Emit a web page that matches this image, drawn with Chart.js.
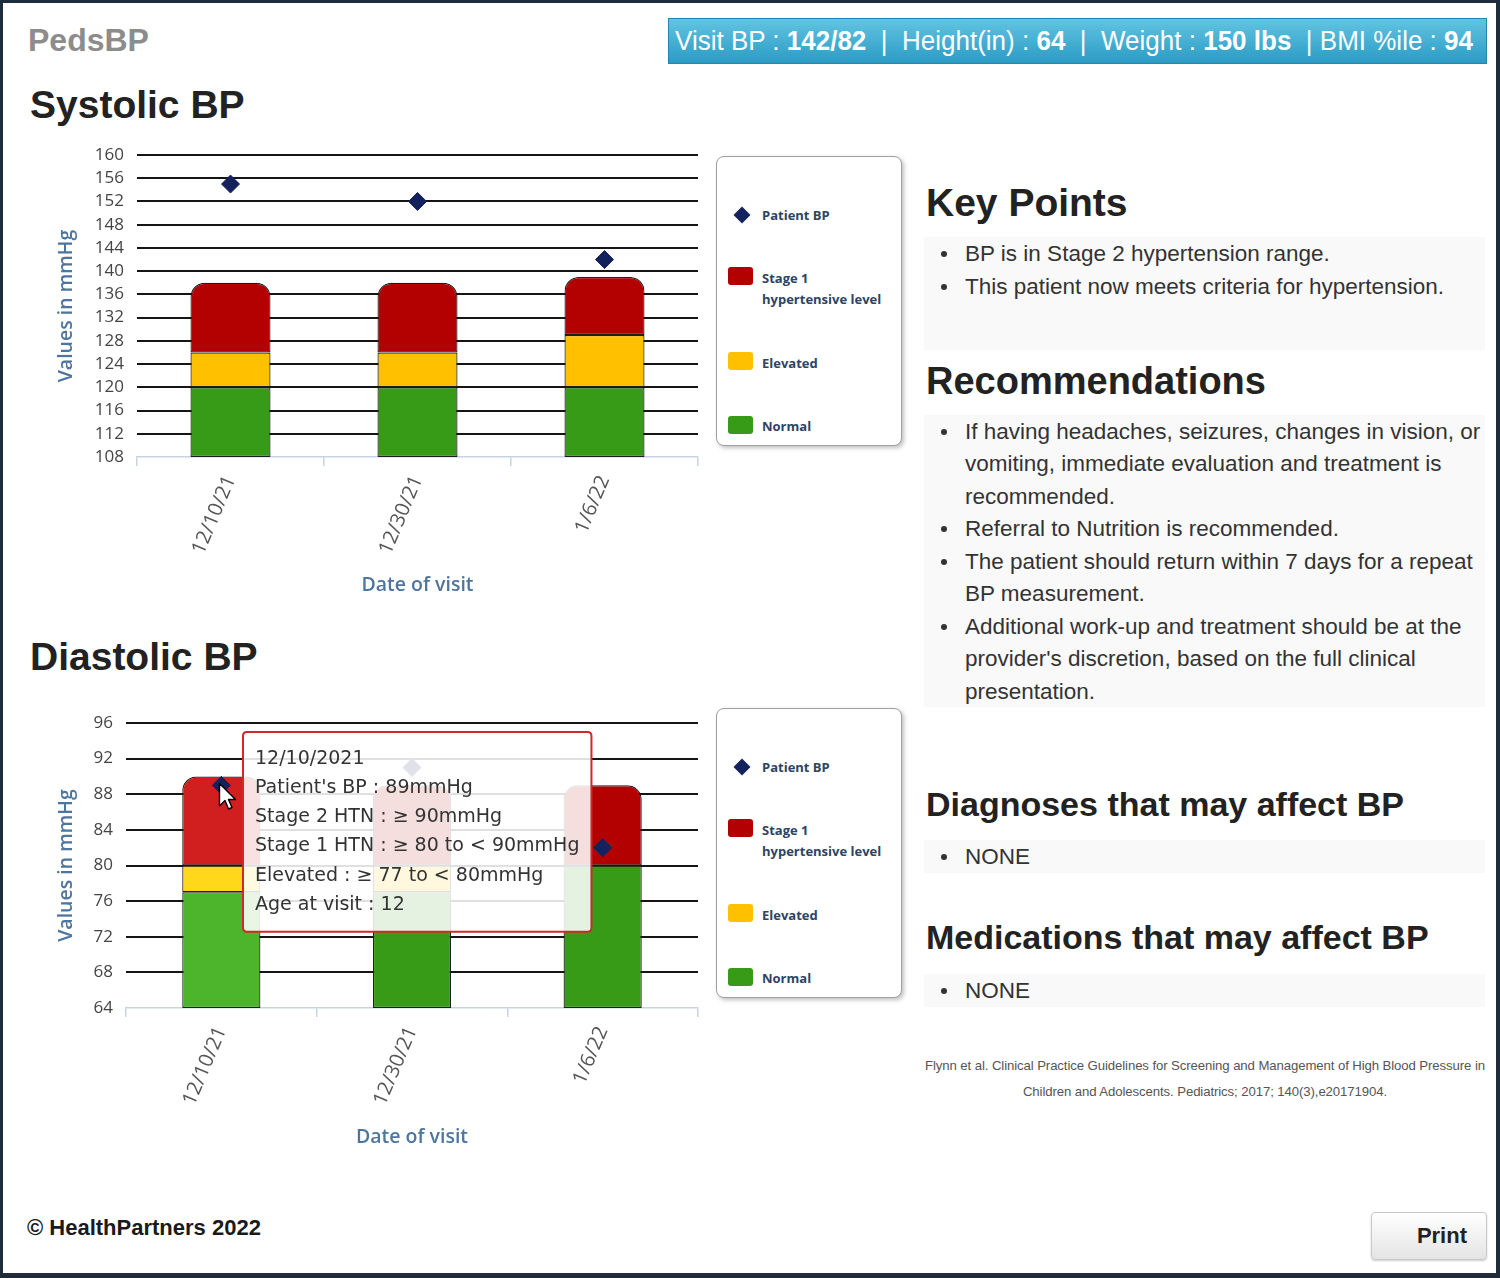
<!DOCTYPE html>
<html>
<head>
<meta charset="utf-8">
<title>PedsBP</title>
<script src="https://cdn.jsdelivr.net/npm/chart.js@4.4.1/dist/chart.umd.min.js"></script>
<style>
  html, body { margin:0; padding:0; background:#fff; width:1500px; height:1278px; overflow:hidden; }
  body { position:relative; font-family:"Liberation Sans", Arial, sans-serif; color:#222; }
  .a { position:absolute; white-space:nowrap; }
  #frame { position:absolute; left:0; top:0; width:1500px; height:1278px; box-sizing:border-box;
           border:3px solid #1f2c3b; border-bottom-width:5px; border-right-width:4px; pointer-events:none; z-index:20; }
  .brand { left:28px; top:21px; line-height:38px; font-size:32px; font-weight:bold; color:#8c8c8c; }
  #hdr { position:absolute; left:668px; top:18px; width:819px; height:46px; box-sizing:border-box;
         background:linear-gradient(#62c4e2,#2b9bc4); border:1px solid #2585aa; color:#fff;
         font-size:27px; line-height:44px; padding-left:6px; overflow:hidden; white-space:nowrap; }
  #hdrText { display:inline-block; transform-origin:0 50%; white-space:pre; }
  .h { margin:0; font-weight:bold; color:#222; }
  .box { position:absolute; background:#f9f9f9; }
  ul.bl { margin:0; padding:0; list-style:none; font-size:22.5px; color:#333; }
  ul.bl li { position:relative; padding-left:41px; white-space:nowrap; }
  ul.bl li::before { content:""; position:absolute; left:17px; width:6px; height:6px; border-radius:50%; background:#333; }
  .lh33 li { line-height:33px; } .lh33 li::before { top:13.5px; }
  .lh325 li { line-height:32.5px; } .lh325 li::before { top:13.3px; }
  .legend { position:absolute; width:186px; height:290px; box-sizing:border-box; border:1.5px solid #a0a0a0;
            border-radius:8px; background:#fff; box-shadow:2px 2px 4px rgba(0,0,0,0.25); }
  .lg-t { position:absolute; left:45px; font-family:"Open Sans", sans-serif; font-weight:bold; font-size:13px;
          color:#2d4463; line-height:21px; white-space:nowrap; transform:translateY(-50%); }
  .lg-s { position:absolute; left:11px; width:25px; height:18px; border-radius:3px; transform:translateY(-50%); }
  .lg-d { position:absolute; left:19px; width:12px; height:12px; background:#13225c; transform:translateY(-50%) rotate(45deg); }
  .cite { left:924px; top:1053px; width:562px; text-align:center; font-size:13.2px; line-height:26px; color:#555; letter-spacing:-0.1px; white-space:nowrap; }
  .copy { left:27px; top:1214px; line-height:28px; font-size:22px; font-weight:bold; color:#1a1a1a; }
  .print { position:absolute; left:1371px; top:1212px; width:116px; height:48px; box-sizing:border-box; border:1px solid #c8c8c8;
           border-radius:4px; background:linear-gradient(#ffffff,#e4e4e4); box-shadow:0 1px 2px rgba(0,0,0,0.2);
           font-size:22px; font-weight:bold; color:#222; line-height:46px; text-align:right; padding-right:19px; }
  .cv { position:absolute; }
</style>
</head>
<body>
<div id="frame"></div>

<div class="a brand">PedsBP</div>
<div id="hdr"><span id="hdrText">Visit BP : <b>142/82</b>  |  Height(in) : <b>64</b>  |  Weight : <b>150 lbs</b>  | BMI %ile : <b>94</b></span></div>

<div class="a h" style="left:30px;top:82px;font-size:39px;line-height:46px;">Systolic BP</div>
<div class="a h" style="left:30px;top:634px;font-size:39px;line-height:46px;">Diastolic BP</div>

<div class="cv" style="left:40px;top:140px;width:660px;height:470px;"><canvas id="sysChart" width="660" height="470"></canvas></div>
<div class="cv" style="left:40px;top:700px;width:660px;height:470px;"><canvas id="diaChart" width="660" height="470"></canvas></div>

<div class="legend" id="sysLegend" style="left:716px;top:156px;"></div>
<div class="legend" id="diaLegend" style="left:716px;top:708px;"></div>

<svg class="a" style="left:218px;top:782px;z-index:5;" width="20" height="32" viewBox="0 0 20 32">
  <path d="M1.5,1.5 L1.5,24 L7,18.5 L10.5,27 L14,25.5 L10.5,17.5 L17.5,17.5 Z" fill="#fff" stroke="#000" stroke-width="1.4" stroke-linejoin="round"/>
</svg>

<div class="a h" style="left:926px;top:180px;font-size:39px;line-height:46px;">Key Points</div>
<div class="box" style="left:924px;top:237px;width:561px;height:113px;">
  <ul class="bl lh33">
    <li>BP is in Stage 2 hypertension range.</li>
    <li>This patient now meets criteria for hypertension.</li>
  </ul>
</div>

<div class="a h" style="left:926px;top:358px;font-size:38px;line-height:46px;">Recommendations</div>
<div class="box" style="left:924px;top:415px;width:561px;height:292px;">
  <ul class="bl lh325" style="padding-top:0.5px;">
    <li>If having headaches, seizures, changes in vision, or<br>vomiting, immediate evaluation and treatment is<br>recommended.</li>
    <li>Referral to Nutrition is recommended.</li>
    <li>The patient should return within 7 days for a repeat<br>BP measurement.</li>
    <li>Additional work-up and treatment should be at the<br>provider's discretion, based on the full clinical<br>presentation.</li>
  </ul>
</div>

<div class="a h" style="left:926px;top:784px;font-size:34px;line-height:40px;">Diagnoses that may affect BP</div>
<div class="box" style="left:924px;top:840px;width:561px;height:33px;">
  <ul class="bl lh33"><li>NONE</li></ul>
</div>

<div class="a h" style="left:926px;top:917px;font-size:34px;line-height:40px;">Medications that may affect BP</div>
<div class="box" style="left:924px;top:974px;width:561px;height:33px;">
  <ul class="bl lh33"><li>NONE</li></ul>
</div>

<div class="a cite">Flynn et al. Clinical Practice Guidelines for Screening and Management of High Blood Pressure in<br>Children and Adolescents. Pediatrics; 2017; 140(3),e20171904.</div>

<div class="a copy">© HealthPartners 2022</div>
<div class="print">Print</div>

<script>
// ---------- data ----------
const visitLabels = ['12/10/21', '12/30/21', '1/6/22'];
const visitDates  = ['12/10/2021', '12/30/2021', '1/6/2022'];
const ageAtVisit  = [12, 12, 13];
const seriesNames = ['Patient BP', 'Stage 1 hypertensive level', 'Elevated', 'Normal'];

const sysPatient     = [155, 152, 142];
const sysNormalTop   = [120, 120, 120];
const sysElevatedTop = [126, 126, 129];
const sysStage1Top   = [138, 138, 139];

const diaPatient     = [89, 91, 82];
const diaNormalTop   = [77, 77, 80];
const diaElevatedTop = [80, 80, 80];
const diaStage1Top   = [90, 89, 89];

const sysRange = [108, 160];
const diaRange = [64, 96];
const tickStep = 4;

// ---------- styles ----------
const RED = '#b30000', RED_HI = '#d11e1e';
const YEL = '#ffc000', YEL_HI = '#ffd81c';
const GRN = '#379b17', GRN_HI = '#4db52b';
const NAVY = '#13225c';

// header text fit
(function(){
  const s = document.getElementById('hdrText');
  const w = s.getBoundingClientRect().width;
  s.style.transform = 'scaleX(' + (798 / w) + ')';
})();

// legends
function buildLegend(id) {
  const el = document.getElementById(id);
  const sw = [null, RED, YEL, GRN];
  const rows = [
    {sy: 58, ty: 58},
    {sy: 119, ty: 132},
    {sy: 204, ty: 206},
    {sy: 268, ty: 269}
  ];
  seriesNames.forEach((n, i) => {
    const r = rows[i];
    if (i === 0) {
      el.insertAdjacentHTML('beforeend', '<div class="lg-d" style="top:' + r.sy + 'px"></div>');
    } else {
      el.insertAdjacentHTML('beforeend', '<div class="lg-s" style="top:' + r.sy + 'px;background:' + sw[i] + '"></div>');
    }
    el.insertAdjacentHTML('beforeend', '<div class="lg-t" style="top:' + r.ty + 'px">' + n.replace('Stage 1 ', 'Stage 1<br>') + '</div>');
  });
}
buildLegend('sysLegend');
buildLegend('diaLegend');

Chart.defaults.font.family = "'Open Sans', 'DejaVu Sans', sans-serif";
Chart.defaults.color = '#444';

Chart.Tooltip.positioners.pinned = function(items) {
  if (!items.length) return false;
  return { x: 207, y: 32 };
};

function bpChart(id, o) {
  const pick = (base, hi) => ctx => (ctx.dataIndex === o.highlight ? hi : base);
  const barStyle = {
    type: 'bar', borderColor: '#1e1e1e', borderWidth: 1.2, borderSkipped: false,
    grouped: false, barPercentage: o.barPct, categoryPercentage: 1, order: 1
  };
  const tooltip = o.tooltip ? {
    enabled: true, position: 'pinned', xAlign: 'left', yAlign: 'top', caretSize: 0, caretPadding: 0,
    backgroundColor: 'rgba(255,255,255,0.87)', borderColor: '#d0282c', borderWidth: 2, cornerRadius: 4,
    titleColor: '#333', bodyColor: '#333',
    titleFont: {family: "'DejaVu Sans', sans-serif", size: 19, weight: 'normal', lineHeight: 1.542},
    bodyFont: {family: "'DejaVu Sans', sans-serif", size: 19, lineHeight: 1.542},
    titleMarginBottom: 0, titleSpacing: 0, bodySpacing: 0,
    padding: {top: 12, bottom: 12, left: 12, right: 12}, displayColors: false,
    filter: item => item.datasetIndex === 0,
    callbacks: {
      title: items => visitDates[items[0].dataIndex],
      label: item => {
        const i = item.dataIndex;
        return [
          "Patient's BP : " + o.patient[i] + 'mmHg',
          'Stage 2 HTN : \u2265 ' + o.stage1Top[i] + 'mmHg',
          'Stage 1 HTN : \u2265 ' + o.elevatedTop[i] + ' to < ' + o.stage1Top[i] + 'mmHg',
          'Elevated : \u2265 ' + o.normalTop[i] + ' to < ' + o.elevatedTop[i] + 'mmHg',
          'Age at visit : ' + ageAtVisit[i]
        ];
      }
    }
  } : {enabled: false};

  return new Chart(document.getElementById(id), {
    data: {
      labels: visitLabels,
      datasets: [
        { type: 'line', label: seriesNames[0], data: o.patient, showLine: false, pointStyle: 'rectRot',
          pointRadius: 9, pointHoverRadius: 9, pointBackgroundColor: NAVY, pointBorderColor: NAVY,
          pointBorderWidth: 1, order: 0 },
        Object.assign({ label: seriesNames[1], data: o.stage1Top.map((v, i) => [o.elevatedTop[i], v]),
          backgroundColor: pick(RED, RED_HI),
          borderRadius: {topLeft: 14, topRight: 14, bottomLeft: 0, bottomRight: 0} }, barStyle),
        Object.assign({ label: seriesNames[2], data: o.elevatedTop.map((v, i) => [o.normalTop[i], v]),
          backgroundColor: pick(YEL, YEL_HI) }, barStyle),
        Object.assign({ label: seriesNames[3], data: o.normalTop.map(v => [o.range[0], v]),
          backgroundColor: pick(GRN, GRN_HI) }, barStyle)
      ]
    },
    options: {
      responsive: false,
      animation: false,
      events: [],
      layout: { autoPadding: false, padding: {top: o.padTop, right: 2, bottom: 0, left: 0} },
      plugins: { legend: {display: false}, tooltip: tooltip },
      scales: {
        x: {
          offset: true,
          grid: { display: true, drawOnChartArea: false, drawTicks: true, tickLength: 9,
                  color: '#c5d3e3', lineWidth: 1.5, offset: true },
          border: { display: true, color: '#c5d3e3', width: 1.5 },
          ticks: { minRotation: 67, maxRotation: 67, autoSkip: false, padding: 6, color: '#555', font: {size: 20} },
          title: { display: true, text: 'Date of visit', color: '#4d759e', font: {size: 19.5, weight: '600'},
                   padding: {top: 0, bottom: o.xTitlePad} },
          afterFit: s => { s.height = o.xAxisH; }
        },
        y: {
          min: o.range[0], max: o.range[1],
          ticks: { stepSize: tickStep, maxTicksLimit: 40, autoSkip: false, padding: 0, color: '#444', font: {size: 17} },
          grid: { drawTicks: true, tickLength: 13, tickColor: 'rgba(0,0,0,0)', lineWidth: 2,
                  color: c => (c.tick && c.tick.value === o.range[0]) ? 'rgba(0,0,0,0)' : '#151515' },
          border: { display: false },
          title: { display: true, text: 'Values in mmHg', color: '#4d759e', font: {size: 19.5, weight: '600'},
                   padding: {top: 15, bottom: 0} },
          afterFit: s => { s.width = o.yAxisW; }
        }
      }
    }
  });
}

bpChart('sysChart', {
  patient: sysPatient, normalTop: sysNormalTop, elevatedTop: sysElevatedTop, stage1Top: sysStage1Top,
  range: sysRange, highlight: -1, tooltip: false,
  padTop: 15, yAxisW: 97, xAxisH: 153, xTitlePad: 13, barPct: 0.428
});

const dia = bpChart('diaChart', {
  patient: diaPatient, normalTop: diaNormalTop, elevatedTop: diaElevatedTop, stage1Top: diaStage1Top,
  range: diaRange, highlight: 0, tooltip: true,
  padTop: 23, yAxisW: 86, xAxisH: 162, xTitlePad: 21, barPct: 0.41
});
dia.tooltip.setActiveElements([{datasetIndex: 0, index: 0}], {x: 0, y: 0});
dia.update();
</script>
</body>
</html>
